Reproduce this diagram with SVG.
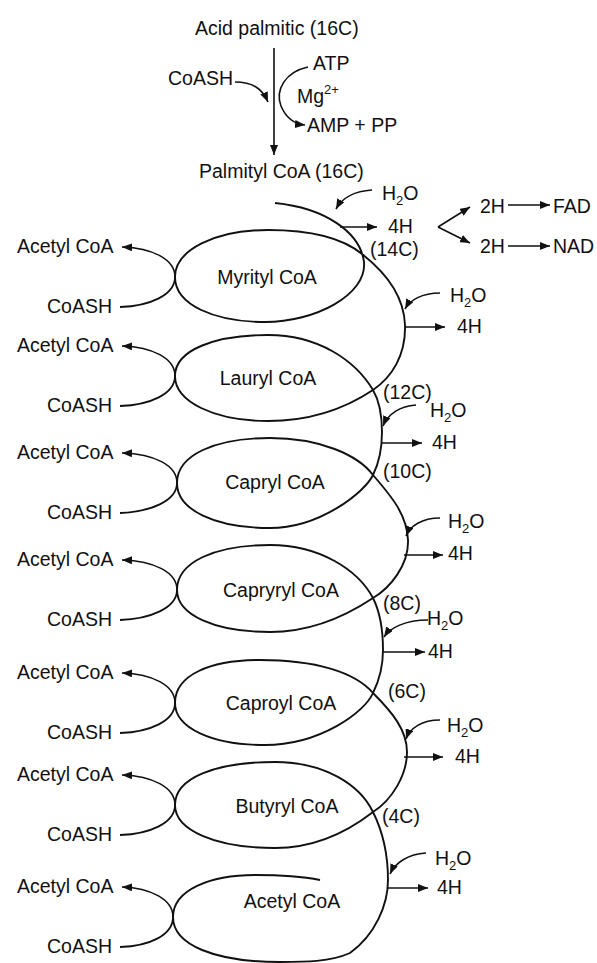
<svg xmlns="http://www.w3.org/2000/svg" width="597" height="963" viewBox="0 0 597 963">
<style>
text{font-family:"Liberation Sans",Arial,sans-serif;font-size:19.5px;fill:#111}
.sub{font-size:13px}
.ln{fill:none;stroke:#111;stroke-width:1.8}
.ar{fill:none;stroke:#111;stroke-width:1.6;marker-end:url(#ah)}
.sp{fill:none;stroke:#111;stroke-width:1.9}
</style>
<defs>
<marker id="ah" viewBox="0 0 10 8" refX="10" refY="4" markerWidth="10" markerHeight="8" markerUnits="userSpaceOnUse" orient="auto"><path d="M0,0 L10,4 L0,8 z" fill="#111"/></marker>
</defs>
<rect width="597" height="963" fill="#fff"/>

<g id="activation">
<text x="195" y="35">Acid palmitic (16C)</text>
<text x="168" y="85">CoASH</text>
<text x="313" y="70">ATP</text>
<text x="297" y="103">Mg<tspan class="sub" dy="-9">2+</tspan></text>
<text x="307" y="132">AMP + PP</text>
<text x="199" y="178">Palmityl CoA (16C)</text>
</g>

<g id="oxidation">
<text x="480" y="213">2H</text>
<text x="480" y="253">2H</text>
<text x="553" y="213">FAD</text>
<text x="553" y="253">NAD</text>
</g>

<g id="h2o-labels">
<text x="382" y="200">H<tspan class="sub" dy="5">2</tspan><tspan dy="-5">O</tspan></text>
<text x="450" y="302">H<tspan class="sub" dy="5">2</tspan><tspan dy="-5">O</tspan></text>
<text x="430" y="417">H<tspan class="sub" dy="5">2</tspan><tspan dy="-5">O</tspan></text>
<text x="448" y="528">H<tspan class="sub" dy="5">2</tspan><tspan dy="-5">O</tspan></text>
<text x="427" y="625">H<tspan class="sub" dy="5">2</tspan><tspan dy="-5">O</tspan></text>
<text x="447" y="732">H<tspan class="sub" dy="5">2</tspan><tspan dy="-5">O</tspan></text>
<text x="435" y="865">H<tspan class="sub" dy="5">2</tspan><tspan dy="-5">O</tspan></text>
</g>

<g id="h4-labels">
<text x="388" y="233">4H</text>
<text x="457" y="333">4H</text>
<text x="432" y="449">4H</text>
<text x="448" y="560">4H</text>
<text x="428" y="658">4H</text>
<text x="455" y="763">4H</text>
<text x="437" y="894">4H</text>
</g>

<g id="carbon-labels">
<text x="370" y="256">(14C)</text>
<text x="383" y="399">(12C)</text>
<text x="383" y="478">(10C)</text>
<text x="383" y="610">(8C)</text>
<text x="388" y="698">(6C)</text>
<text x="382" y="823">(4C)</text>
</g>

<g id="myrityl"><text x="267" y="284" text-anchor="middle">Myrityl CoA</text></g>
<g id="lauryl"><text x="268" y="385" text-anchor="middle">Lauryl CoA</text></g>
<g id="capryl"><text x="275" y="489" text-anchor="middle">Capryl CoA</text></g>
<g id="capryryl"><text x="281" y="597" text-anchor="middle">Capryryl CoA</text></g>
<g id="caproyl"><text x="281" y="710" text-anchor="middle">Caproyl CoA</text></g>
<g id="butyryl"><text x="287" y="813" text-anchor="middle">Butyryl CoA</text></g>
<g id="acetyl-final"><text x="292" y="908" text-anchor="middle">Acetyl CoA</text></g>

<g id="left-products">
<text x="17" y="253">Acetyl CoA</text><text x="112" y="313" text-anchor="end">CoASH</text>
<text x="17" y="352">Acetyl CoA</text><text x="112" y="412" text-anchor="end">CoASH</text>
<text x="17" y="459">Acetyl CoA</text><text x="112" y="519" text-anchor="end">CoASH</text>
<text x="17" y="566">Acetyl CoA</text><text x="112" y="626" text-anchor="end">CoASH</text>
<text x="17" y="679">Acetyl CoA</text><text x="112" y="739" text-anchor="end">CoASH</text>
<text x="17" y="781">Acetyl CoA</text><text x="112" y="841" text-anchor="end">CoASH</text>
<text x="17" y="893">Acetyl CoA</text><text x="112" y="953" text-anchor="end">CoASH</text>
</g>

<g id="spiral">
<path class="sp" d="M275,203 C325,208 360,232 364,262 C367,295 315,322 265,322 C215,322 175,305 175,277
C175,250 215,230 268,230 C318,230 345,240 362,254 C385,272 404,295 405,325 C406,355 392,377 373,390 C352,404 318,421 268,421 C215,421 175,402 175,376
C175,350 215,335 268,335 C318,335 355,360 373,390 C380,402 382,415 382,432 C382,452 378,465 373,475 C365,492 320,528 270,528 C215,528 177,510 177,483
C177,455 215,438 270,438 C320,438 358,455 373,475 C392,497 407,515 408,540 C409,565 390,588 373,598 C355,610 318,632 270,632 C215,632 177,615 177,590
C177,562 215,545 270,545 C320,545 358,570 373,598 C380,612 383,628 383,650 C383,668 378,683 373,693 C365,712 320,745 265,745 C212,745 175,728 175,703
C175,675 210,660 260,660 C315,660 355,672 373,693 C392,712 407,730 407,752 C407,775 392,800 373,812 C355,826 320,848 275,848 C215,848 175,830 175,805
C175,778 215,762 275,762 C325,762 360,785 373,812 C382,830 388,855 388,880 C388,905 375,935 350,953 C330,962 305,962 280,962 C215,962 173,945 173,917
C173,890 210,875 255,875 C285,875 305,877 320,880"/>
</g>

<g id="connectors">
<line class="ar" x1="274" y1="48" x2="274" y2="155"/>
<path class="ar" d="M235,82 C252,82 262,88 268,102"/>
<path class="ar" d="M308,67 C285,72 275,90 281,106 C286,118 295,124 305,125"/>
<path class="ar" d="M438,227 L470,207"/>
<path class="ar" d="M438,227 L470,243"/>
<line class="ar" x1="508" y1="205" x2="550" y2="205"/>
<line class="ar" x1="508" y1="246" x2="550" y2="246"/>

<path class="ar" d="M372,190 C355,191 342,198 336,209"/>
<path class="ar" d="M440,293 C422,293 410,300 405,309"/>
<path class="ar" d="M416,405 C400,406 388,414 383,426"/>
<path class="ar" d="M440,518 C422,518 410,526 406,536"/>
<path class="ar" d="M428,620 C405,620 390,628 384,637"/>
<path class="ar" d="M440,720 C422,720 410,728 406,739"/>
<path class="ar" d="M426,853 C408,854 395,863 390,874"/>

<line class="ar" x1="340" y1="227" x2="377" y2="227"/>
<line class="ar" x1="405" y1="327" x2="445" y2="327"/>
<line class="ar" x1="381" y1="443" x2="422" y2="443"/>
<line class="ar" x1="404" y1="555" x2="443" y2="555"/>
<line class="ar" x1="383" y1="652" x2="425" y2="652"/>
<line class="ar" x1="404" y1="757" x2="443" y2="757"/>
<line class="ar" x1="388" y1="888" x2="428" y2="888"/>

<path class="ar" d="M175,277 C175,259 152,248 122,247"/>
<path class="ln" d="M120,307 C150,306 175,295 175,277"/>
<path class="ar" d="M175,376 C175,358 152,347 122,346"/>
<path class="ln" d="M120,406 C150,405 175,394 175,376"/>
<path class="ar" d="M177,483 C177,465 154,454 122,453"/>
<path class="ln" d="M120,513 C150,512 177,501 177,483"/>
<path class="ar" d="M177,590 C177,572 154,561 122,560"/>
<path class="ln" d="M120,620 C150,619 177,608 177,590"/>
<path class="ar" d="M175,703 C175,685 152,674 122,673"/>
<path class="ln" d="M120,733 C150,732 175,721 175,703"/>
<path class="ar" d="M175,805 C175,787 152,776 122,775"/>
<path class="ln" d="M120,835 C150,834 175,823 175,805"/>
<path class="ar" d="M173,917 C173,899 150,888 122,887"/>
<path class="ln" d="M120,947 C150,946 173,935 173,917"/>
</g>
</svg>
